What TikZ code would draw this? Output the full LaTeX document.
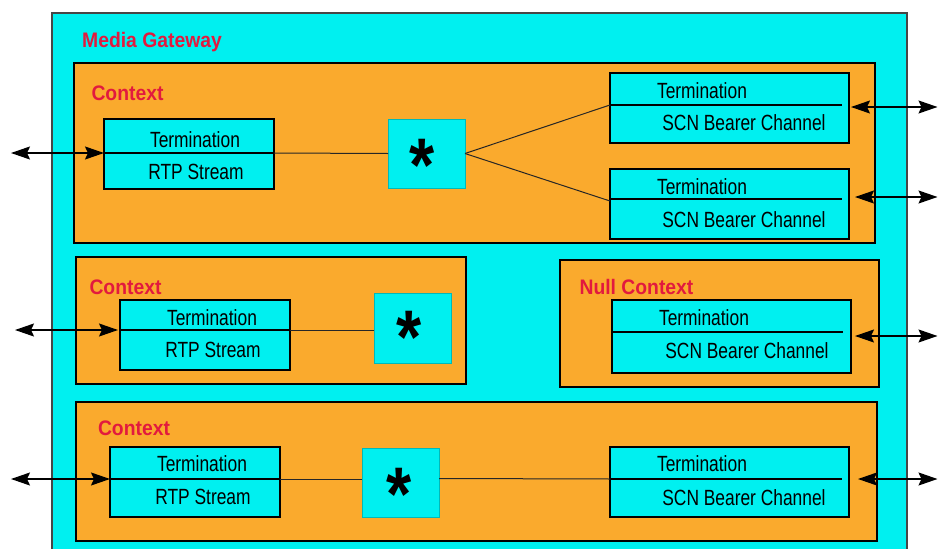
\documentclass[tikz,border=0pt]{standalone}
\usepackage{fontspec}
\usepackage{graphicx}
\setmainfont{Liberation Sans}
\usetikzlibrary{arrows.meta}

\definecolor{gwcyan}{RGB}{0,240,240}
\definecolor{ctxorange}{RGB}{250,170,45}
\definecolor{lblred}{RGB}{226,26,62}
\definecolor{starline}{RGB}{0,185,185}
\definecolor{gwborder}{RGB}{70,70,70}

% condensed body text and red box titles
\newcommand{\tlabel}[1]{\scalebox{0.79}[1]{#1}}
\newcommand{\ctitle}[1]{\scalebox{0.92}[1]{\bfseries #1}}
\newcommand{\bridgemark}{\scalebox{0.85}[1]{\bfseries *}}

\begin{document}
\begin{tikzpicture}[x=1pt,y=-1pt,
  gateway/.style={draw=gwborder, fill=gwcyan, line width=1.3pt, inner sep=0pt, outer sep=0pt},
  ctxbox/.style={draw=black, fill=ctxorange, line width=1.5pt, inner sep=0pt, outer sep=0pt},
  termbox/.style={draw=black, fill=gwcyan, line width=1.5pt, inner sep=0pt, outer sep=0pt},
  starbox/.style={draw=starline, fill=gwcyan, line width=1pt, inner sep=0pt, outer sep=0pt,
                  minimum width=77pt, minimum height=69pt},
  divider/.style={draw=black, line width=1.3pt},
  ttext/.style={font=\fontsize{22}{24}\selectfont, inner sep=0pt, anchor=base, text=black},
  ctext/.style={font=\fontsize{21}{24}\selectfont, inner sep=0pt, anchor=base, text=lblred},
  startext/.style={font=\fontsize{76}{76}\selectfont, inner sep=0pt, anchor=base, text=black},
  link/.style={draw=black!85, line width=1pt},
  bearer/.style={draw=black, line width=1.5pt,
                 {Stealth[length=19pt,width=13pt,inset=3pt]}-{Stealth[length=19pt,width=13pt,inset=3pt]}},
]
\useasboundingbox (0,0) rectangle (938,549);
\clip (0,0) rectangle (938,549);
\fill[white] (0,0) rectangle (938,549);

% media gateway
\node[gateway, minimum width=855pt, minimum height=547pt] (gw) at (479.5,286.5) {};
\node[ctext] (gwlbl) at (152,47) {\ctitle{Media Gateway}};

% contexts
\node[ctxbox, minimum width=801pt, minimum height=180pt] (c1) at (474.5,153) {};
\node[ctxbox, minimum width=390pt, minimum height=127pt] (c2) at (271,320.5) {};
\node[ctxbox, minimum width=319pt, minimum height=127pt] (cn) at (719.5,323.5) {};
\node[ctxbox, minimum width=801pt, minimum height=139pt] (c3) at (476.5,471.5) {};
\node[ctext] (c1lbl) at (127.5,100) {\ctitle{Context}};
\node[ctext] (c2lbl) at (125.5,294) {\ctitle{Context}};
\node[ctext] (cnlbl) at (636.5,294) {\ctitle{Null Context}};
\node[ctext] (c3lbl) at (134,435) {\ctitle{Context}};

% RTP terminations
\node[termbox, minimum width=170pt, minimum height=70pt] (t1) at (189,154) {};
\draw[divider] (t1.west |- 0,153) -- (t1.east |- 0,153);
\node[ttext] (t1a) at (195,147) {\tlabel{Termination}};
\node[ttext] (t1b) at (196,179) {\tlabel{RTP Stream}};

\node[termbox, minimum width=170pt, minimum height=70pt] (t2) at (205,335) {};
\draw[divider] (t2.west |- 0,330) -- (t2.east |- 0,330);
\node[ttext] (t2a) at (212,325) {\tlabel{Termination}};
\node[ttext] (t2b) at (213,357) {\tlabel{RTP Stream}};

\node[termbox, minimum width=170pt, minimum height=70pt] (t3) at (195,482) {};
\draw[divider] (t3.west |- 0,479) -- (t3.east |- 0,479);
\node[ttext] (t3a) at (202,471) {\tlabel{Termination}};
\node[ttext] (t3b) at (203,504) {\tlabel{RTP Stream}};

% SCN bearer channel terminations
\node[termbox, minimum width=239pt, minimum height=70pt] (ta) at (729.5,108) {};
\draw[divider] (ta.west |- 0,105) -- (842,105);
\node[ttext] (taa) at (702,98) {\tlabel{Termination}};
\node[ttext] (tab) at (744,130) {\tlabel{SCN Bearer Channel}};

\node[termbox, minimum width=239pt, minimum height=70pt] (tb) at (729.5,204) {};
\draw[divider] (tb.west |- 0,199) -- (842,199);
\node[ttext] (tba) at (702,194) {\tlabel{Termination}};
\node[ttext] (tbb) at (744,227) {\tlabel{SCN Bearer Channel}};

\node[termbox, minimum width=239pt, minimum height=73pt] (tn) at (731.5,336.5) {};
\draw[divider] (tn.west |- 0,332) -- (843,332);
\node[ttext] (tna) at (704,325) {\tlabel{Termination}};
\node[ttext] (tnb) at (747,358) {\tlabel{SCN Bearer Channel}};

\node[termbox, minimum width=239pt, minimum height=70pt] (tc) at (729.5,482) {};
\draw[divider] (tc.west |- 0,479) -- (842,479);
\node[ttext] (tca) at (702,471) {\tlabel{Termination}};
\node[ttext] (tcb) at (744,505) {\tlabel{SCN Bearer Channel}};

% bridging points
\node[starbox] (s1) at (426.5,153.5) {};
\node[startext] (s1t) at (422.5,191) {\bridgemark};
\node[starbox, minimum height=70pt] (s2) at (412.5,328) {};
\node[startext] (s2t) at (409,363) {\bridgemark};
\node[starbox] (s3) at (400.5,482.5) {};
\node[startext] (s3t) at (399,520) {\bridgemark};

% internal links
\draw[link] ([yshift=1pt]t1.east) -- (s1.west);
\draw[link] (s1.east) -- ([yshift=3pt]ta.west);
\draw[link] (s1.east) -- ([yshift=3pt]tb.west);
\draw[link] ([yshift=5pt]t2.east) -- ([yshift=-2pt]s2.west);
\draw[link] ([yshift=3pt]t3.east) -- ([yshift=3.5pt]s3.west);
\draw[link] ([yshift=4pt]s3.east) -- ([yshift=3pt]tc.west);

% external bearer arrows
\coordinate (l1) at (11,153);
\coordinate (l2) at (15,330);
\coordinate (l3) at (11,479);
\coordinate (ra) at (937.5,107);
\coordinate (rb) at (937.5,197);
\coordinate (rn) at (937.5,336);
\coordinate (rc) at (937.5,479);
\draw[bearer] (l1) -- ([yshift=1pt]t1.west);
\draw[bearer] (l2) -- ([xshift=-2pt,yshift=5pt]t2.west);
\draw[bearer] (l3) -- ([yshift=3pt]t3.west);
\draw[bearer] ([xshift=2pt,yshift=1pt]ta.east) -- (ra);
\draw[bearer] ([xshift=6pt,yshift=7pt]tb.east) -- (rb);
\draw[bearer] ([xshift=4pt,yshift=0.5pt]tn.east) -- (rn);
\draw[bearer] ([xshift=9pt,yshift=3pt]tc.east) -- (rc);
\end{tikzpicture}
\end{document}
